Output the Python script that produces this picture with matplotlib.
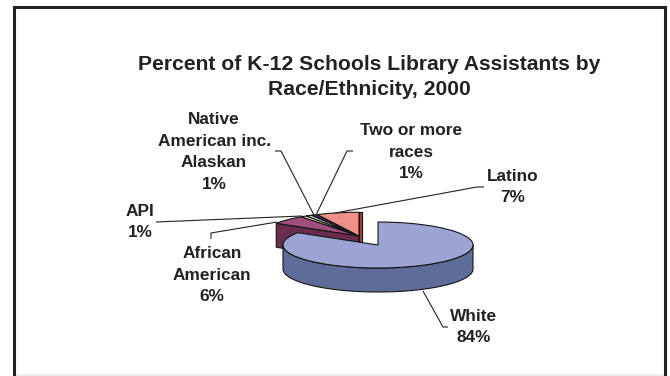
import numpy as np
import matplotlib
matplotlib.use("Agg")
import matplotlib.pyplot as plt
from matplotlib.patches import Wedge

plt.rcParams['font.family'] = ['Liberation Sans', 'DejaVu Sans']

title = "Percent of K-12 Schools Library Assistants by\nRace/Ethnicity, 2000"
categories = ["White", "African\nAmerican", "API", "Native\nAmerican inc.\nAlaskan", "Two or more\nraces", "Latino"]
values = [84, 6, 1, 1, 1, 7]
top_colors = ["#9BA4D2", "#A04E7E", "#F4F0C0", "#BFDCD8", "#5E1A5E", "#F09189"]
side_colors = ["#5D6C98", "#6A2C4C", "#8A8870", "#6C8480", "#3A103A", "#8D4A44"]

W, H = 670, 376
K = 4.13          # vertical squash of the pie plane
DEPTH = 24
fig = plt.figure(figsize=(W / 100, H / 100), dpi=100, facecolor="white")
ax = fig.add_axes([0, 0, 1, 1])
ax.set_xlim(0, W)
ax.set_ylim(-H * K, 0)
ax.axis("off")


def Y(py):
    return -py * K


def pt(cx, cy, r, deg):
    return cx + r * np.cos(np.radians(deg)), Y(cy) + r * np.sin(np.radians(deg))


total = sum(values)
ends = 90 - np.cumsum(values) / total * 360
starts = np.r_[90, ends[:-1]]
EDGE = dict(edgecolor="#151515", linewidth=0.8)

# detached group (everything but the first slice)
gx, gy, gr = 359, 236, 98
first, last = 1, len(values) - 1
ang = starts[first]
x0, y0 = pt(gx, gy, gr, ang)
ax.fill([gx, x0, x0, gx], [Y(gy), y0, y0 - DEPTH * K, Y(gy + DEPTH)],
        facecolor=side_colors[first], **EDGE, zorder=2)
ang = ends[last]
x1, y1 = pt(gx, gy, gr, ang)
ax.fill([gx, x1, x1 + 3, x1 + 3, gx], [Y(gy), y1, y1, Y(gy + 8), Y(gy + 8)],
        facecolor=side_colors[last], **EDGE, zorder=2)
for i in range(first, last + 1):
    ax.add_patch(Wedge((gx, Y(gy)), gr, ends[i], starts[i],
                       facecolor=top_colors[i], zorder=3, **EDGE))

# main slice
mx, my, mr = 378, 245, 95
t = np.radians(np.linspace(180, 360, 120))
ax_x = mx + mr * np.cos(t)
ax_y = Y(my) + mr * np.sin(t)
ax.fill(np.r_[ax_x, ax_x[::-1]], np.r_[ax_y, ax_y[::-1] - DEPTH * K],
        facecolor=side_colors[0], zorder=4, **EDGE)
ax.add_patch(Wedge((mx, Y(my)), mr, ends[0], starts[0],
                   facecolor=top_colors[0], zorder=5, **EDGE))

# leaders
leaders = [
    [(423, 291), (443, 327), (448, 327)],
    [(211, 239), (211, 233), (277, 222)],
    [(156, 222), (302, 216)],
    [(275, 151), (281, 151), (314, 215)],
    [(353, 151), (347, 151), (316, 215)],
    [(484, 187), (477, 187), (335, 213)],
]
for pts in leaders:
    xs, ys = zip(*pts)
    ax.plot(xs, [Y(v) for v in ys], color="#222222", lw=0.8, zorder=6, solid_capstyle="butt")

# labels
positions = [(474, 327), (212, 275), (140, 222), (214, 152), (411, 152), (513, 187)]
TXT = "#222222"
for name, v, (px, py) in zip(categories, values, positions):
    ax.text(px, Y(py), f"{name}\n{v}%", ha="center", va="center", ma="center",
            fontsize=12.4, fontweight="bold", color=TXT, linespacing=1.55, zorder=7)

ax.text(369, Y(77), title, ha="center", va="center", ma="center",
        fontsize=15.2, fontweight="bold", color=TXT, linespacing=1.4, zorder=7)

# frame: left, top and right rules, with a faint rule along the bottom
ax.plot([13.5, 13.5, 665, 665], [Y(375), Y(6.5), Y(6.5), Y(375)],
        color="#222222", lw=2.2, zorder=8, solid_joinstyle="miter")
ax.plot([15, 664], [Y(375.3), Y(375.3)], color="#E8E8E8", lw=1.2, zorder=7)

fig.savefig("out.png", dpi=100, facecolor="white")
